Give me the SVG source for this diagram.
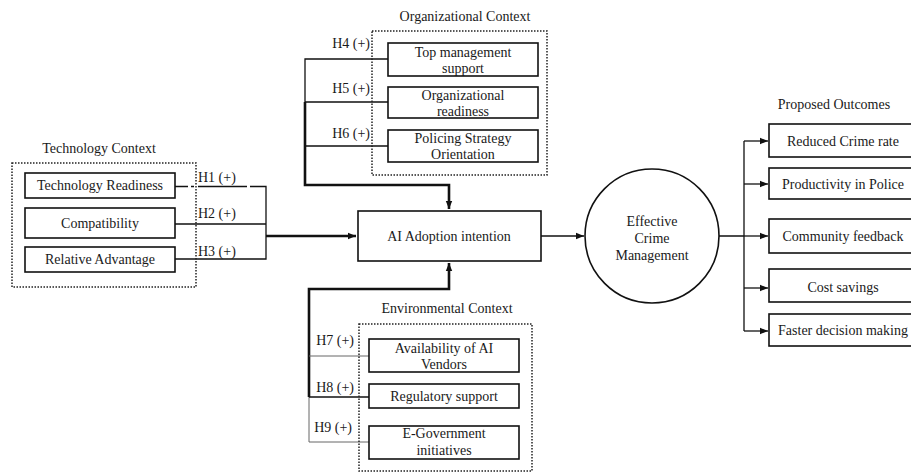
<svg xmlns="http://www.w3.org/2000/svg" width="911" height="473" viewBox="0 0 911 473">
<defs>
<marker id="ah" markerUnits="userSpaceOnUse" markerWidth="8" markerHeight="8" viewBox="0 0 8 8" refX="8" refY="4" orient="auto">
<path d="M0,0.8 L8,4 L0,7.2 Z" fill="#111"/>
</marker>
<style>
text{font-family:"Liberation Serif","Times New Roman",serif;font-size:14px;fill:#1a1a1a;text-anchor:middle}
.lab{text-anchor:start}
.rl{text-anchor:end}
.box{fill:#fff;stroke:#111;stroke-width:1.6}
.grp{fill:none;stroke:#222;stroke-width:1.5;stroke-dasharray:1.5 1.5}
.ln{fill:none;stroke:#111;stroke-width:1.3}
.thin{fill:none;stroke:#666;stroke-width:1}
.thick{fill:none;stroke:#111;stroke-width:2.6}
</style>
</defs>
<rect width="911" height="473" fill="#fff"/>

<g id="connectors">
<!-- technology -->
<path class="ln" d="M175,186.5 H188 M191,186.5 H194 M198,186.5 H247 M250,186.5 H266 V259 H175 M175,224 H266"/>
<path class="thick" d="M266,236 H356" marker-end="url(#ah)"/>
<!-- organizational -->
<path class="ln" d="M388,59 H305 V102 M305,102 H388 M305,146 H388"/>
<path class="thick" d="M305,102 V185 H449 V209" marker-end="url(#ah)"/>
<!-- environmental -->
<path class="thick" d="M309,397 V289 H449 V263" marker-end="url(#ah)"/>
<path class="thin" d="M309,356 H369 M309,397 V442 H369"/>
<path class="ln" d="M309,397 H369"/>
<!-- AI to circle -->
<path class="ln" d="M541,236 H584" marker-end="url(#ah)"/>
<!-- outcomes -->
<path class="ln" d="M719,236 H744 M744,141 V331"/>
<path class="ln" d="M744,141 H768" marker-end="url(#ah)"/>
<path class="ln" d="M744,184 H768" marker-end="url(#ah)"/>
<path class="ln" d="M744,236 H768" marker-end="url(#ah)"/>
<path class="ln" d="M744,288 H768" marker-end="url(#ah)"/>
<path class="ln" d="M744,331 H768" marker-end="url(#ah)"/>
</g>

<!-- Technology context -->
<g id="technology-context">
<text x="99" y="153">Technology Context</text>
<rect class="grp" x="12" y="163" width="184" height="124"/>
</g>
<g id="technology-readiness"><rect class="box" x="25" y="173" width="150" height="25"/><text x="100" y="190">Technology Readiness</text></g>
<g id="compatibility"><rect class="box" x="25" y="208" width="150" height="30"/><text x="100" y="228">Compatibility</text></g>
<g id="relative-advantage"><rect class="box" x="25" y="247" width="150" height="25"/><text x="100" y="264">Relative Advantage</text></g>
<g id="h-labels-tech">
<text class="lab" x="198" y="182">H1 (+)</text>
<text class="lab" x="198" y="218">H2 (+)</text>
<text class="lab" x="198" y="256">H3 (+)</text>
</g>

<!-- Organizational context -->
<g id="organizational-context">
<text x="465" y="21">Organizational Context</text>
<rect class="grp" x="372" y="31" width="175" height="144"/>
</g>
<g id="top-management"><rect class="box" x="388" y="43" width="150" height="33"/><text x="463" y="57">Top management</text><text x="463" y="73">support</text></g>
<g id="org-readiness"><rect class="box" x="388" y="87" width="150" height="31"/><text x="463" y="100">Organizational</text><text x="463" y="116">readiness</text></g>
<g id="policing-strategy"><rect class="box" x="388" y="130" width="150" height="32"/><text x="463" y="143">Policing Strategy</text><text x="463" y="159">Orientation</text></g>
<g id="h-labels-org">
<text class="rl" x="370" y="48">H4 (+)</text>
<text class="rl" x="370" y="93">H5 (+)</text>
<text class="rl" x="370" y="138">H6 (+)</text>
</g>

<!-- AI adoption -->
<g id="ai-adoption"><rect class="box" x="358" y="211" width="183" height="50"/><text x="449" y="241">AI Adoption intention</text></g>

<!-- Environmental context -->
<g id="environmental-context">
<text x="447" y="313">Environmental Context</text>
<rect class="grp" x="359" y="324" width="173" height="147"/>
</g>
<g id="ai-vendors"><rect class="box" x="369" y="339" width="150" height="33"/><text x="444" y="353">Availability of AI</text><text x="444" y="369">Vendors</text></g>
<g id="regulatory-support"><rect class="box" x="369" y="384" width="150" height="24"/><text x="444" y="401">Regulatory support</text></g>
<g id="e-government"><rect class="box" x="369" y="426" width="150" height="33"/><text x="444" y="438">E-Government</text><text x="444" y="455">initiatives</text></g>
<g id="h-labels-env">
<text class="rl" x="354" y="345">H7 (+)</text>
<text class="rl" x="354" y="392">H8 (+)</text>
<text class="rl" x="352" y="432">H9 (+)</text>
</g>

<!-- Effective crime management -->
<g id="effective-crime-management">
<circle cx="652" cy="236" r="67" fill="#fff" stroke="#111" stroke-width="1.6"/>
<text x="652" y="226">Effective</text>
<text x="652" y="243">Crime</text>
<text x="652" y="260">Management</text>
</g>

<!-- Outcomes -->
<g id="proposed-outcomes"><text x="834" y="109">Proposed Outcomes</text></g>
<g id="reduced-crime"><rect class="box" x="769" y="124" width="150" height="33"/><text x="843" y="146">Reduced Crime rate</text></g>
<g id="productivity"><rect class="box" x="769" y="168" width="150" height="31"/><text x="843" y="189">Productivity in Police</text></g>
<g id="community-feedback"><rect class="box" x="769" y="219" width="150" height="34"/><text x="843" y="241">Community feedback</text></g>
<g id="cost-savings"><rect class="box" x="769" y="269" width="150" height="33"/><text x="843" y="292">Cost savings</text></g>
<g id="faster-decision"><rect class="box" x="769" y="314" width="150" height="32"/><text x="843" y="335">Faster decision making</text></g>
</svg>
